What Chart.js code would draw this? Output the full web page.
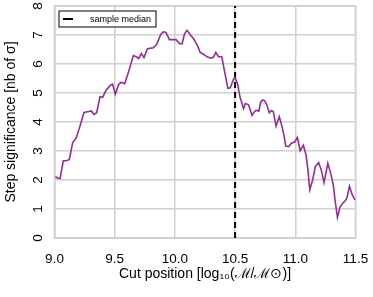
<!DOCTYPE html>
<html>
<head>
<meta charset="utf-8">
<script src="https://cdn.jsdelivr.net/npm/chart.js@4/dist/chart.umd.min.js"></script>
<style>
  html, body { margin: 0; padding: 0; background: #fff; overflow: hidden; }
</style>
</head>
<body>
<canvas id="chart" width="373" height="297"></canvas>
<script>
// cut positions, log10(M/Msun)
const cutPositions = [
  9.007, 9.035, 9.046, 9.073, 9.106, 9.123, 9.151, 9.179, 9.206, 9.245,
  9.284, 9.306, 9.328, 9.350, 9.378, 9.400, 9.428, 9.467, 9.483, 9.505,
  9.533, 9.555, 9.583, 9.616, 9.655, 9.683, 9.699, 9.721, 9.743, 9.771,
  9.788, 9.821, 9.849, 9.882, 9.904, 9.926, 9.954, 10.01, 10.04, 10.06,
  10.08, 10.10, 10.13, 10.16, 10.19, 10.21, 10.24, 10.27, 10.30, 10.32,
  10.34, 10.36, 10.39, 10.41, 10.44, 10.46, 10.49, 10.50, 10.52, 10.54,
  10.57, 10.585, 10.61, 10.624, 10.64, 10.657, 10.674, 10.696, 10.713, 10.729,
  10.746, 10.762, 10.784, 10.80, 10.817, 10.84, 10.867, 10.89, 10.906, 10.92,
  10.945, 10.967, 10.995, 11.017, 11.04, 11.067, 11.09, 11.105, 11.12, 11.144,
  11.166, 11.194, 11.216, 11.238, 11.255, 11.27, 11.294, 11.316, 11.33, 11.35,
  11.37, 11.394, 11.416, 11.43, 11.45, 11.47, 11.495
];
// step significance, nb of sigma
const significance = [
  2.11, 2.05, 2.05, 2.66, 2.67, 2.71, 3.29, 3.44, 3.78, 4.33,
  4.36, 4.38, 4.26, 4.32, 4.87, 4.85, 5.10, 5.28, 5.31, 4.96,
  5.30, 5.37, 5.32, 5.74, 6.29, 6.24, 6.19, 6.36, 6.22, 6.52,
  6.54, 6.56, 6.68, 7.02, 7.11, 7.09, 6.84, 6.84, 6.70, 6.70,
  7.04, 7.16, 7.00, 6.84, 6.61, 6.40, 6.33, 6.24, 6.20, 6.24,
  6.40, 6.26, 6.24, 5.80, 5.16, 5.18, 5.51, 5.53, 5.33, 4.87,
  4.46, 4.64, 4.60, 4.44, 4.23, 4.34, 4.41, 4.37, 4.69, 4.76,
  4.73, 4.60, 4.32, 4.39, 4.37, 3.86, 4.18, 3.84, 3.54, 3.17,
  3.15, 3.27, 3.31, 3.47, 3.01, 3.20, 2.85, 2.34, 1.66, 2.00,
  2.46, 2.60, 2.34, 1.91, 2.25, 2.58, 2.23, 1.82, 1.31, 0.71,
  1.06, 1.20, 1.29, 1.40, 1.79, 1.52, 1.31
];
const sampleMedian = 10.5;
const xTicks = [9.0, 9.5, 10.0, 10.5, 11.0, 11.5];
const yTicks = [0, 1, 2, 3, 4, 5, 6, 7, 8];

const curve = cutPositions.map((x, i) => ({ x: x, y: significance[i] }));
const medianLine = [{ x: sampleMedian, y: yTicks[0] }, { x: sampleMedian, y: yTicks[yTicks.length - 1] }];

const FONT = "'Liberation Sans', Arial, sans-serif";
const GRID = '#d0d0d0';

// plot frame on all four sides
const frame = {
  id: 'frame',
  beforeDatasetsDraw(chart) {
    const a = chart.chartArea, ctx = chart.ctx;
    ctx.save();
    ctx.strokeStyle = GRID;
    ctx.lineWidth = 1.5;
    ctx.strokeRect(a.left, a.top, a.right - a.left, a.bottom - a.top);
    ctx.restore();
  }
};

// boxed legend in the upper left corner, plus rotated y tick labels
const extras = {
  id: 'extras',
  afterDraw(chart) {
    const ctx = chart.ctx;
    const area = chart.chartArea;
    const ys = chart.scales.y;
    ctx.save();
    ctx.fillStyle = '#000';
    ctx.font = '13.5px ' + FONT;
    ctx.textAlign = 'center';
    ctx.textBaseline = 'middle';
    yTicks.forEach(v => {
      ctx.save();
      ctx.translate(38, ys.getPixelForValue(v));
      ctx.rotate(-Math.PI / 2);
      ctx.fillText(String(v), 0, 0);
      ctx.restore();
    });
    // legend
    const lx = area.left + 4.5, ly = area.top + 5, lw = 97, lh = 16;
    ctx.fillStyle = '#fff';
    ctx.fillRect(lx, ly, lw, lh);
    ctx.strokeStyle = '#000';
    ctx.lineWidth = 1;
    ctx.strokeRect(lx, ly, lw, lh);
    ctx.beginPath();
    ctx.lineWidth = 2;
    ctx.moveTo(lx + 4, ly + lh / 2);
    ctx.lineTo(lx + 14, ly + lh / 2);
    ctx.stroke();
    ctx.font = '9px ' + FONT;
    ctx.textAlign = 'left';
    ctx.fillStyle = '#000';
    ctx.fillText('sample median', lx + 31, ly + lh / 2 + 0.5);
    ctx.restore();
  }
};

new Chart(document.getElementById('chart'), {
  type: 'scatter',
  data: {
    datasets: [
      {
        label: 'significance',
        data: curve,
        showLine: true,
        borderColor: '#952d95',
        borderWidth: 1.6,
        pointRadius: 0,
        tension: 0
      },
      {
        label: 'sample median',
        data: medianLine,
        showLine: true,
        borderColor: '#000',
        borderWidth: 2,
        borderDash: [6, 4],
        pointRadius: 0
      }
    ]
  },
  plugins: [frame, extras],
  options: {
    responsive: false,
    animation: false,
    layout: { padding: { top: 6, right: 17.5, left: 0, bottom: 0 } },
    plugins: { legend: { display: false }, tooltip: { enabled: false } },
    scales: {
      x: {
        type: 'linear',
        min: 9.0,
        max: 11.5,
        afterBuildTicks: s => { s.ticks = xTicks.map(v => ({ value: v })); },
        afterFit: s => { s.height = 59; s.paddingLeft = 0; s.paddingRight = 0; },
        grid: { color: GRID, lineWidth: 1.5, drawTicks: false },
        border: { color: GRID, width: 1.5 },
        ticks: {
          color: '#000',
          font: { size: 13.5, family: FONT },
          padding: 13,
          callback: v => v.toFixed(1)
        },
        title: {
          display: true,
          text: 'Cut position [log\u2081\u2080(\u2133/\u2133\u2299)]',
          color: '#000',
          font: { size: 14, family: FONT },
          padding: { top: 4, bottom: 14 }
        }
      },
      y: {
        min: 0,
        max: 8,
        afterBuildTicks: s => { s.ticks = yTicks.map(v => ({ value: v })); },
        afterFit: s => { s.width = 54.5; s.paddingTop = 0; s.paddingBottom = 0; },
        grid: { color: GRID, lineWidth: 1.5, drawTicks: false },
        border: { color: GRID, width: 1.5 },
        ticks: { display: false },
        title: {
          display: true,
          text: 'Step significance [nb of \u03c3]',
          color: '#000',
          font: { size: 14, family: FONT },
          padding: { top: 3, bottom: 0 }
        }
      }
    }
  }
});
</script>
</body>
</html>
